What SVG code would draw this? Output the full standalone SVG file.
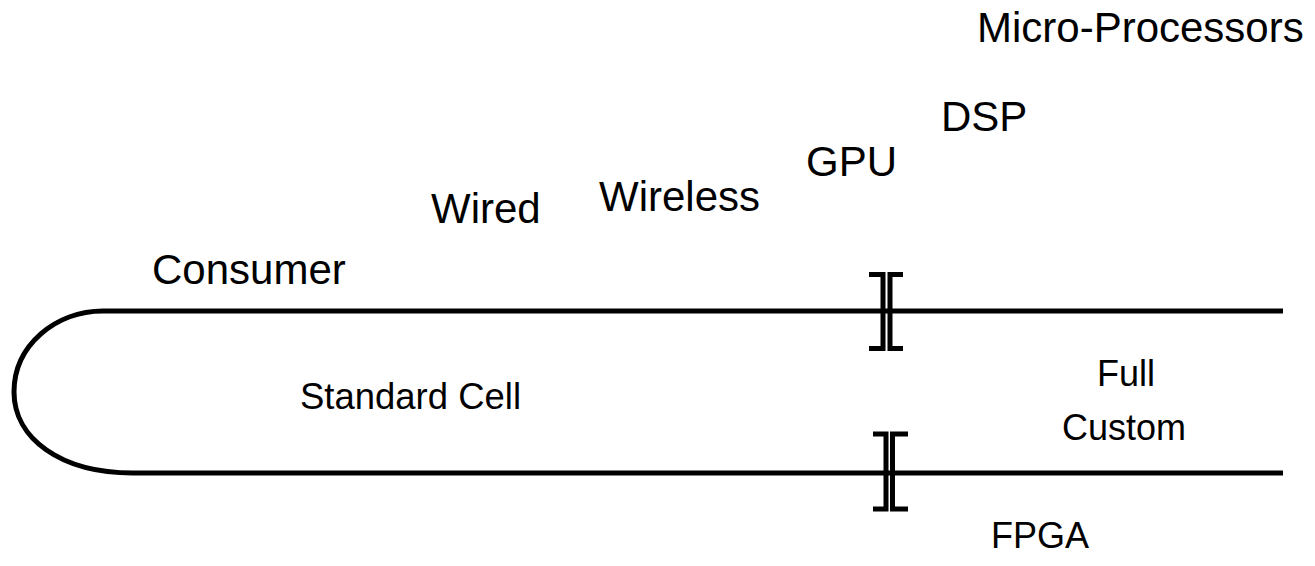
<svg xmlns="http://www.w3.org/2000/svg" width="1315" height="566" viewBox="0 0 1315 566">
<style>
.t{font-family:"Liberation Sans",Arial,sans-serif;fill:#000}
.big{font-size:42px}
.small{font-size:36px}
.ln{fill:none;stroke:#000;stroke-width:5}
.br{fill:none;stroke:#000;stroke-width:5;stroke-linejoin:miter}
</style>
<rect width="1315" height="566" fill="#fff"/>
<g id="connectors">
<path class="ln" d="M1283,311 H103 C56,311 14,345 14,392 C14,438 60,473 133,473 H1283"/>
</g>
<g id="barrier-top">
<path class="br" d="M869,274.5 H883 V348.5 H869"/>
<path class="br" d="M903,274.5 H890 V348.5 H903"/>
</g>
<g id="barrier-bottom">
<path class="br" d="M873,434 H886 V509 H873"/>
<path class="br" d="M908,434 H892.5 V509 H908"/>
</g>
<g id="micro"><text class="t big" x="977" y="42">Micro-Processors</text></g>
<g id="dsp"><text class="t big" x="941" y="131">DSP</text></g>
<g id="gpu"><text class="t big" x="806" y="176">GPU</text></g>
<g id="wired"><text class="t big" x="431" y="223">Wired</text></g>
<g id="wireless"><text class="t big" x="599" y="211">Wireless</text></g>
<g id="consumer"><text class="t big" x="152" y="284">Consumer</text></g>
<g id="standard"><text class="t small" x="300" y="409" textLength="221" lengthAdjust="spacingAndGlyphs">Standard Cell</text></g>
<g id="fullcustom">
<text class="t small" x="1097" y="386">Full</text>
<text class="t small" x="1062" y="440">Custom</text>
</g>
<g id="fpga"><text class="t small" x="991" y="548">FPGA</text></g>
</svg>
